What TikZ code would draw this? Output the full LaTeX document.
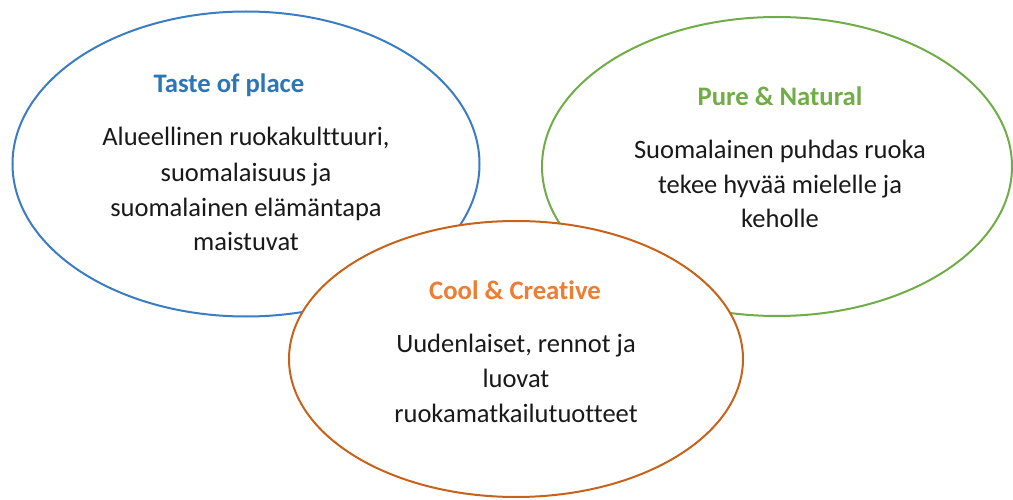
\documentclass[tikz,border=0pt]{standalone}
\usepackage{fontspec}
\setmainfont[Ligatures={NoCommon,TeX}]{Carlito}
\usetikzlibrary{shapes.geometric}
\definecolor{cblue}{HTML}{2E75B6}
\definecolor{cblueline}{HTML}{3B7DC4}
\definecolor{cgreen}{HTML}{70AD47}
\definecolor{corange}{HTML}{ED7D31}
\definecolor{corangeline}{HTML}{C8621B}
\tikzset{
  oval/.style={ellipse, draw, line width=2pt, fill=white, inner sep=0pt, outer sep=0pt},
  ttl/.style={anchor=base, font=\fontsize{26.7}{32}\selectfont\bfseries},
  body/.style={anchor=base, align=center, text=black!90, font=\fontsize{26.5}{35}\selectfont}
}
\begin{document}
\begin{tikzpicture}[x=1pt,y=-1pt]
\useasboundingbox (0,0) rectangle (1013,500);
\node[oval, draw=cblueline, minimum width=467pt, minimum height=305pt] (blue) at (246,164) {};
\node[oval, draw=cgreen, minimum width=470pt, minimum height=299pt] (green) at (777,166.5) {};
\node[oval, draw=corangeline, minimum width=454pt, minimum height=276pt] (orange) at (516,359) {};
\node[ttl, text=cblue] (t1) at (229,93) {Taste of place};
\node[body] (b1) at (246,251) {Alueellinen ruokakulttuuri,\\suomalaisuus ja\\suomalainen elämäntapa\\maistuvat};
\node[ttl, text=cgreen] (t2) at (780,106) {Pure \& Natural};
\node[body] (b2) at (780,228) {Suomalainen puhdas ruoka\\tekee hyvää mielelle ja\\keholle};
\node[ttl, text=corange] (t3) at (515,299) {Cool \& Creative};
\node[body] (b3) at (516,422) {Uudenlaiset, rennot ja\\luovat\\ruokamatkailutuotteet};
\end{tikzpicture}
\end{document}
